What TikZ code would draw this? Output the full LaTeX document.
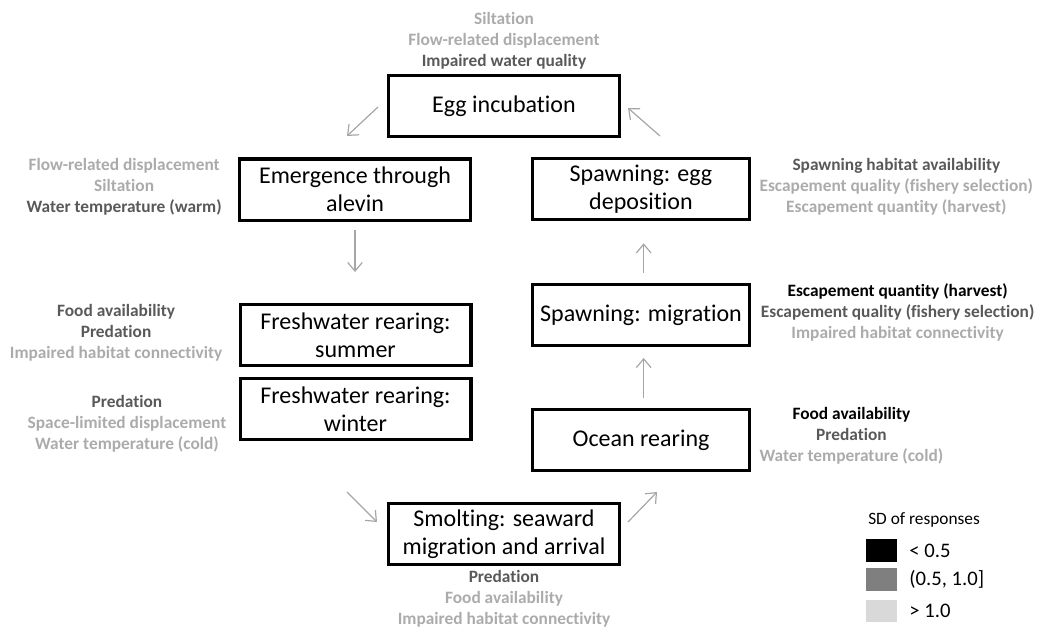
\documentclass[tikz,border=0pt]{standalone}
\usepackage{fontspec}
\setmainfont{Carlito}[Ligatures={NoCommon}]
\usepackage{xcolor}
\usepackage{tikz}
\usetikzlibrary{arrows.meta,positioning}
\definecolor{SDlow}{HTML}{000000}
\definecolor{SDmid}{HTML}{595959}
\definecolor{SDhigh}{HTML}{ABABAB}
\definecolor{SwatchMid}{HTML}{7F7F7F}
\definecolor{SwatchHigh}{HTML}{D9D9D9}
\definecolor{CycleGray}{HTML}{A6A6A6}
\newcommand{\lowsd}[1]{\textcolor{SDlow}{#1}}
\newcommand{\midsd}[1]{\textcolor{SDmid}{#1}}
\newcommand{\highsd}[1]{\textcolor{SDhigh}{#1}}
\tikzset{
  stage/.style={draw=black,line width=2.5pt,fill=white,align=center,
              minimum height=46pt,minimum width=173pt,inner sep=2pt,
              font=\fontsize{18}{21}\selectfont},
  seastage/.style={stage,minimum width=163pt},
  factors/.style={align=center,inner sep=0pt,font=\bfseries\fontsize{13}{15.75}\selectfont},
  cycle/.style={-{Straight Barb[length=6.5pt,width=11pt]},line width=0.9pt,draw=CycleGray},
  swatch/.style={minimum width=23pt,minimum height=17pt,inner sep=0pt},
  legend/.style={font=\fontsize{15.5}{18}\selectfont,inner sep=0pt}
}

\begin{document}
\begin{tikzpicture}[x=0.75pt,y=-0.75pt,node distance=11pt]
  \useasboundingbox (0,0) rectangle (1053,635);

  \node[stage] (egg) at (504,106) {Egg incubation};
  \node[stage] (emerge) at (355,189.5) {Emergence through\\alevin};
  \node[stage] (summer) at (355.5,335) {Freshwater rearing:\\summer};
  \node[stage] (winter) at (355.5,409) {Freshwater rearing:\\winter};
  \node[stage] (smolt) at (504,534) {Smolting: seaward\\migration and arrival};
  \node[seastage] (ocean) at (641,440) {Ocean rearing};
  \node[seastage] (migr) at (641,315) {Spawning: migration};
  \node[seastage] (depos) at (641,189) {Spawning: egg\\deposition};

  \node[factors,above=3pt of egg] (eggF) {\highsd{Siltation}\\\highsd{Flow-related displacement}\\\midsd{Impaired water quality}};
  \node[factors,left=12pt of emerge,yshift=2pt] (emergeF) {\highsd{Flow-related displacement}\\\highsd{Siltation}\\\midsd{Water temperature (warm)}};
  \node[factors,left=12pt of summer,yshift=2pt] (summerF) {\midsd{Food availability}\\\midsd{Predation}\\\highsd{Impaired habitat connectivity}};
  \node[factors,left=9pt of winter,yshift=-11pt] (winterF) {\midsd{Predation}\\\highsd{Space-limited displacement}\\\highsd{Water temperature (cold)}};
  \node[factors,below=3pt of smolt] (smoltF) {\midsd{Predation}\\\highsd{Food availability}\\\highsd{Impaired habitat connectivity}};
  \node[factors,right=6pt of ocean,yshift=3pt] (oceanF) {\lowsd{Food availability}\\\midsd{Predation}\\\highsd{Water temperature (cold)}};
  \node[factors,right=7pt of migr,yshift=2pt] (migrF) {\lowsd{Escapement quantity (harvest)}\\\midsd{Escapement quality (fishery selection)}\\\highsd{Impaired habitat connectivity}};
  \node[factors,right=6pt of depos,yshift=2pt] (deposF) {\midsd{Spawning habitat availability}\\\highsd{Escapement quality (fishery selection)}\\\highsd{Escapement quantity (harvest)}};

  \coordinate (eggOut) at (378,107);
  \coordinate (emergeIn) at (347,136);
  \coordinate (winterOut) at (347,492);
  \coordinate (smoltIn) at (377,522);
  \coordinate (smoltOut) at (628,522);
  \coordinate (oceanIn) at (657,492);
  \coordinate (deposOut) at (660,136);
  \coordinate (eggIn) at (628,108);

  \draw[cycle] (eggOut) -- (emergeIn);
  \draw[cycle,shorten <=6pt,shorten >=23pt] (emerge.south) -- (emerge.south |- summer.north);
  \draw[cycle] (winterOut) -- (smoltIn);
  \draw[cycle] (smoltOut) -- (oceanIn);
  \draw[cycle,shorten <=7.5pt,shorten >=8pt] ([xshift=2]ocean.north) -- ([xshift=2]migr.south);
  \draw[cycle,shorten <=7.5pt,shorten >=16.5pt] ([xshift=2]migr.north) -- ([xshift=2]depos.south);
  \draw[cycle] (deposOut) -- (eggIn);

  \node[font=\fontsize{13}{15}\selectfont,inner sep=0pt,anchor=west] (legT) at (868,520) {SD of responses};
  \node[swatch,fill=black] (sw1) at (881.5,550.5) {};
  \node[swatch,fill=SwatchMid] (sw2) at (881.5,579.5) {};
  \node[swatch,fill=SwatchHigh] (sw3) at (881.5,611) {};
  \node[legend,right=9pt of sw1] (lg1) {< 0.5};
  \node[legend,right=9pt of sw2] (lg2) {(0.5, 1.0]};
  \node[legend,right=9pt of sw3] (lg3) {> 1.0};
\end{tikzpicture}
\end{document}
